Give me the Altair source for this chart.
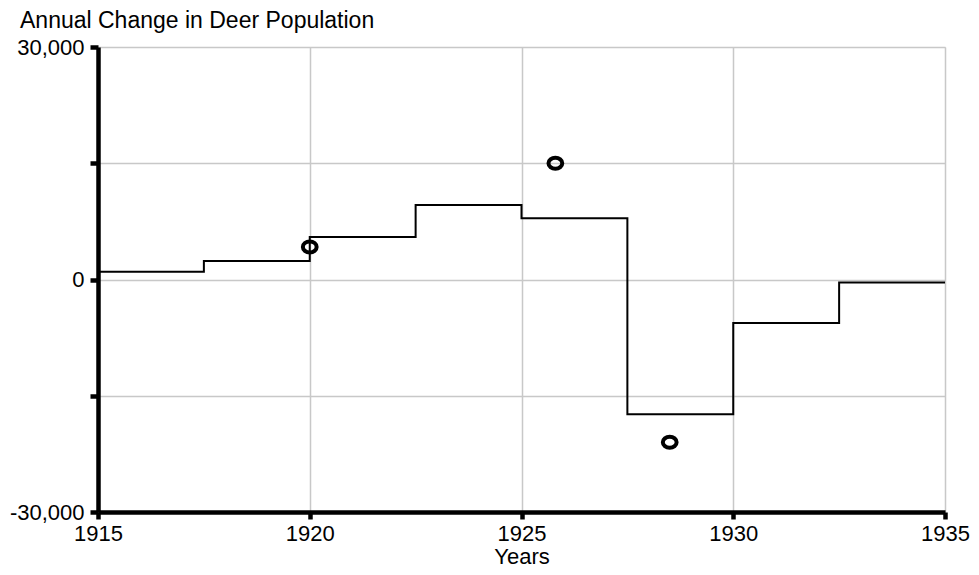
import altair as alt
import pandas as pd

# Simulated annual change (step series)
step_years = [1915, 1917.5, 1920, 1922.5, 1925, 1927.5, 1930, 1932.5, 1935]
step_values = [1000, 2400, 5500, 9600, 7900, -17400, -5600, -400, -400]

# Observed data points
obs_years = [1920, 1925.8, 1928.5]
obs_values = [4200, 15000, -21000]

x_ticks = [1915, 1920, 1925, 1930, 1935]
y_ticks = [-30000, -15000, 0, 15000, 30000]

FONT = "Liberation Sans"
FS = 22

sim = pd.DataFrame({"year": step_years, "change": step_values})
obs = pd.DataFrame({"year": obs_years, "change": obs_values})

x_enc = alt.X(
    "year:Q",
    scale=alt.Scale(domain=[1915, 1935], nice=False, zero=False),
    axis=alt.Axis(
        values=x_ticks, format="d", title="Years", labelFlush=False,
        grid=True, gridColor="#c8c8c8", gridWidth=1.5,
        domainColor="black", domainWidth=4.5,
        tickColor="black", tickWidth=4.5, tickSize=7,
        labelPadding=4, labelFontSize=FS, labelFont=FONT, labelColor="black",
        titleFontSize=FS, titleFont=FONT, titleFontWeight="normal",
        titleColor="black", titlePadding=2,
    ),
)
y_enc = alt.Y(
    "change:Q",
    scale=alt.Scale(domain=[-30000, 30000], nice=False),
    axis=alt.Axis(
        values=y_ticks, title=None, labelFlush=False,
        labelExpr="datum.value % 30000 == 0 ? replace(format(datum.value, ','), '\u2212', '-') : ''",
        grid=True, gridColor="#c8c8c8", gridWidth=1.5,
        domainColor="black", domainWidth=4.5,
        tickColor="black", tickWidth=4.5, tickSize=8,
        labelPadding=6, labelFontSize=FS, labelFont=FONT, labelColor="black",
    ),
)

line = alt.Chart(sim).mark_line(
    interpolate="step-after", color="black", strokeWidth=2
).encode(x=x_enc, y=y_enc)

ellipse = "M -1 0 A 1 0.8 0 1 1 1 0 A 1 0.8 0 1 1 -1 0 Z"
pts = alt.Chart(obs).mark_point(
    shape=ellipse, filled=False, color="black", strokeWidth=4, size=190, opacity=1
).encode(x="year:Q", y="change:Q")

chart = (
    alt.layer(line, pts)
    .properties(
        width=847,
        height=465,
        autosize=alt.AutoSizeParams(type="none"),
        padding={"left": 90, "top": 39, "right": 26, "bottom": 55},
        title=alt.TitleParams(
            "Annual Change in Deer Population",
            anchor="start", frame="group", dx=-78, offset=3,
            fontSize=23, font=FONT, fontWeight="normal", color="black",
        ),
    )
    .configure_view(stroke="transparent")
    .configure(background="white")
)

chart.save("out.html", embed_options={"renderer": "svg", "actions": False})
